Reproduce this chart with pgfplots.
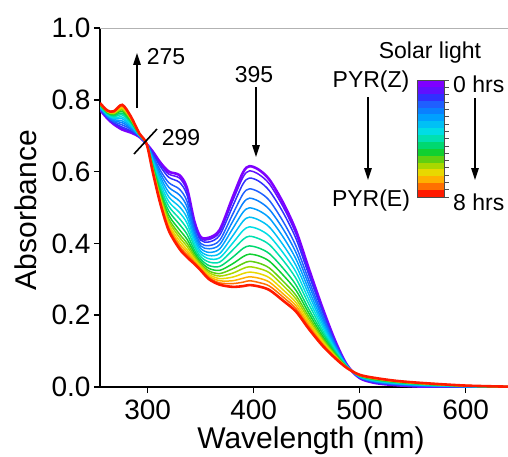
\documentclass[border=0pt]{standalone}
\usepackage{fontspec}
\setmainfont{Liberation Sans}
\usepackage{pgfplots}
\usepackage{pgfplotstable}
\pgfplotsset{compat=1.18}
\usetikzlibrary{arrows.meta}
\definecolor{c0}{HTML}{7F00FF}
\definecolor{c1}{HTML}{6010FF}
\definecolor{c2}{HTML}{3030FF}
\definecolor{c3}{HTML}{1F5FFF}
\definecolor{c4}{HTML}{0A80FF}
\definecolor{c5}{HTML}{00A0FF}
\definecolor{c6}{HTML}{00C0F5}
\definecolor{c7}{HTML}{00DDE5}
\definecolor{c8}{HTML}{00E0B0}
\definecolor{c9}{HTML}{00D870}
\definecolor{c10}{HTML}{10D030}
\definecolor{c11}{HTML}{60D010}
\definecolor{c12}{HTML}{A8D800}
\definecolor{c13}{HTML}{E8D800}
\definecolor{c14}{HTML}{FFB000}
\definecolor{c15}{HTML}{FF7000}
\definecolor{c16}{HTML}{FF1A00}
\pgfplotstableread{
wl c0 c1 c2 c3 c4 c5 c6 c7 c8 c9 c10 c11 c12 c13 c14 c15 c16
255 0.772 0.773 0.774 0.776 0.777 0.779 0.780 0.782 0.783 0.785 0.786 0.787 0.788 0.789 0.790 0.790 0.791
262 0.748 0.749 0.750 0.752 0.754 0.756 0.758 0.759 0.761 0.763 0.764 0.766 0.767 0.768 0.768 0.769 0.770
268 0.732 0.733 0.736 0.739 0.742 0.745 0.748 0.750 0.753 0.756 0.759 0.761 0.762 0.764 0.766 0.767 0.768
276 0.717 0.720 0.724 0.730 0.736 0.741 0.747 0.752 0.758 0.763 0.768 0.772 0.775 0.778 0.781 0.784 0.786
284 0.709 0.711 0.714 0.718 0.721 0.725 0.728 0.732 0.736 0.739 0.742 0.745 0.747 0.749 0.751 0.752 0.754
292 0.697 0.697 0.698 0.699 0.700 0.700 0.701 0.702 0.703 0.704 0.704 0.705 0.705 0.706 0.706 0.707 0.707
299 0.677 0.677 0.677 0.677 0.677 0.677 0.677 0.677 0.677 0.677 0.677 0.677 0.677 0.677 0.677 0.677 0.677
305 0.655 0.653 0.649 0.644 0.639 0.634 0.630 0.625 0.620 0.616 0.611 0.608 0.605 0.603 0.600 0.598 0.596
312 0.625 0.620 0.614 0.603 0.594 0.585 0.576 0.566 0.557 0.548 0.540 0.533 0.528 0.523 0.518 0.514 0.510
320 0.600 0.593 0.584 0.569 0.556 0.542 0.529 0.516 0.503 0.490 0.478 0.468 0.461 0.453 0.447 0.441 0.435
330 0.590 0.582 0.570 0.551 0.535 0.518 0.502 0.486 0.469 0.453 0.438 0.426 0.417 0.408 0.399 0.392 0.385
337 0.555 0.547 0.536 0.518 0.503 0.488 0.472 0.457 0.441 0.426 0.412 0.401 0.392 0.383 0.376 0.369 0.362
344 0.462 0.457 0.450 0.439 0.430 0.420 0.411 0.401 0.392 0.382 0.374 0.367 0.361 0.356 0.351 0.347 0.343
350 0.418 0.414 0.409 0.400 0.393 0.386 0.378 0.371 0.363 0.356 0.349 0.344 0.339 0.335 0.332 0.328 0.325
358 0.416 0.411 0.404 0.394 0.385 0.375 0.366 0.357 0.348 0.338 0.330 0.323 0.318 0.313 0.308 0.304 0.300
368 0.438 0.432 0.423 0.409 0.397 0.385 0.372 0.360 0.348 0.336 0.325 0.316 0.309 0.302 0.296 0.290 0.285
380 0.527 0.517 0.502 0.480 0.460 0.440 0.420 0.400 0.381 0.361 0.343 0.329 0.317 0.306 0.296 0.288 0.279
390 0.598 0.585 0.566 0.538 0.512 0.487 0.462 0.436 0.411 0.386 0.363 0.344 0.330 0.316 0.303 0.292 0.281
396 0.615 0.602 0.582 0.552 0.526 0.499 0.473 0.446 0.420 0.393 0.370 0.350 0.335 0.320 0.307 0.296 0.284
405 0.605 0.592 0.573 0.543 0.517 0.491 0.465 0.439 0.413 0.387 0.365 0.345 0.330 0.316 0.303 0.291 0.280
415 0.577 0.565 0.546 0.519 0.494 0.470 0.445 0.420 0.396 0.371 0.350 0.331 0.318 0.304 0.292 0.281 0.270
428 0.512 0.501 0.485 0.460 0.439 0.417 0.395 0.373 0.352 0.330 0.311 0.294 0.282 0.270 0.259 0.250 0.240
440 0.435 0.426 0.413 0.392 0.374 0.356 0.338 0.320 0.302 0.284 0.269 0.255 0.245 0.235 0.226 0.218 0.210
452 0.330 0.323 0.313 0.298 0.285 0.271 0.258 0.244 0.231 0.217 0.206 0.196 0.188 0.181 0.174 0.168 0.162
465 0.220 0.216 0.210 0.200 0.192 0.183 0.175 0.167 0.158 0.150 0.142 0.136 0.131 0.127 0.122 0.119 0.115
477 0.128 0.126 0.123 0.119 0.115 0.111 0.107 0.104 0.100 0.096 0.092 0.090 0.087 0.085 0.083 0.082 0.080
488 0.062 0.062 0.061 0.060 0.060 0.059 0.058 0.058 0.057 0.056 0.055 0.055 0.054 0.054 0.054 0.053 0.053
500 0.025 0.025 0.026 0.027 0.027 0.028 0.029 0.030 0.030 0.031 0.032 0.032 0.033 0.033 0.033 0.034 0.034
515 0.011 0.012 0.012 0.014 0.015 0.016 0.017 0.018 0.019 0.020 0.021 0.022 0.023 0.024 0.024 0.025 0.025
535 0.005 0.005 0.006 0.007 0.008 0.009 0.010 0.011 0.012 0.013 0.014 0.015 0.015 0.016 0.016 0.017 0.017
560 0.001 0.001 0.002 0.003 0.004 0.005 0.005 0.006 0.007 0.008 0.008 0.009 0.009 0.010 0.010 0.011 0.011
600 0.000 0.000 0.000 0.001 0.001 0.001 0.002 0.002 0.002 0.003 0.003 0.003 0.003 0.004 0.004 0.004 0.004
640 0.000 0.000 0.000 0.000 0.000 0.000 0.000 0.000 0.000 0.000 0.000 0.001 0.001 0.001 0.001 0.001 0.001
}\data
\newcommand{\tickfont}{\fontsize{28}{30}\selectfont}
\newcommand{\labfont}{\fontsize{30}{32}\selectfont}
\newcommand{\annfont}{\fontsize{23}{25}\selectfont}
\tikzset{arr/.style={line width=1.6pt,-{Triangle[length=12pt,width=7.5pt]}}}
\begin{document}
\begin{tikzpicture}
\path[use as bounding box] (-100pt,-69pt) rectangle (408pt,387pt);
\clip (-100pt,-69pt) rectangle (408pt,387pt);
\begin{axis}[name=ax,
  width=408pt, height=359pt, scale only axis,
  xmin=255, xmax=640, ymin=0, ymax=1,
  axis lines*=left,
  axis line style={line width=2pt, black},
  xtick={300,400,500,600},
  ytick={0,0.2,0.4,0.6,0.8,1.0},
  tick align=outside,
  major tick length=6pt,
  tick style={line width=1.6pt, black},
  /pgf/number format/assume math mode=true,
  tick label style={font=\tickfont},
  yticklabel style={/pgf/number format/.cd, fixed, fixed zerofill, precision=1},
  xticklabel style={yshift=-3pt, /pgf/number format/.cd, fixed, precision=0},
]
\addplot[c0, line width=2.6pt, smooth] table[x=wl, y=c0] {\data};
\pgfplotsinvokeforeach{1,...,15}{
  \addplot[c#1, line width=1.5pt, smooth] table[x=wl, y=c#1] {\data};
}
\addplot[c16, line width=2.6pt, smooth] table[x=wl, y=c16] {\data};
\end{axis}
\draw[gray!60, line width=0.8pt] (ax.north west) -- (ax.north east);
\node[rotate=90, anchor=base, font=\labfont] at (-63pt,177pt) {Absorbance};
\node[anchor=base, font=\labfont] at (211pt,-61pt) {Wavelength (nm)};
% annotations
\node[font=\annfont] at (66pt,330pt) {275};
\draw[arr] (37pt,279pt) -- (37pt,334pt);
\node[font=\annfont] at (81pt,249pt) {299};
\draw[line width=1.6pt] (34pt,233pt) -- (57pt,258pt);
\node[font=\annfont] at (154pt,312pt) {395};
\draw[arr] (156pt,300pt) -- (156pt,230pt);
\node[font=\annfont] at (330pt,334pt) {Solar light};
\node[font=\annfont] at (271pt,305pt) {PYR(Z)};
\node[font=\annfont] at (271pt,186pt) {PYR(E)};
\draw[arr] (268pt,290pt) -- (268pt,207pt);
\foreach \k in {0,...,16}{
  \fill[c\k] (317pt,{(307-(\k+1)*6.882)*1pt}) rectangle (344pt,{(307-\k*6.882)*1pt});
}
\draw[black!70, line width=0.6pt] (317pt,190pt) rectangle (344pt,307pt);
\foreach \k in {0,...,16}{
  \draw[black!70, line width=0.6pt] (344pt,{(190+\k*7.3125)*1pt}) -- (349pt,{(190+\k*7.3125)*1pt});
}
\node[font=\annfont, anchor=west, inner sep=0pt] at (353pt,303pt) {0 hrs};
\node[font=\annfont, anchor=west, inner sep=0pt] at (353pt,185pt) {8 hrs};
\draw[arr] (375pt,289pt) -- (375pt,207pt);
\end{tikzpicture}
\end{document}
